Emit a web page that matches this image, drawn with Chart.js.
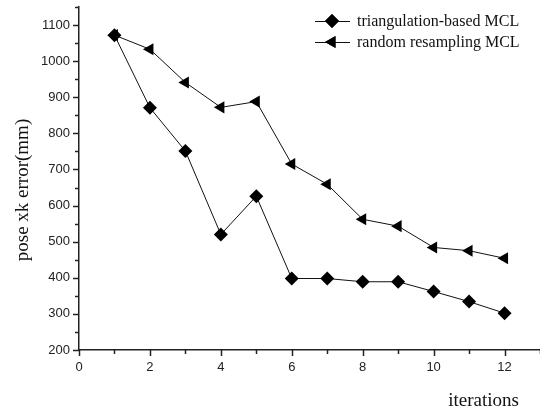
<!DOCTYPE html>
<html>
<head>
<meta charset="utf-8">
<script src="https://cdn.jsdelivr.net/npm/chart.js@4"></script>
<style>
  html, body { margin: 0; padding: 0; background: #fff; }
  #wrap { width: 540px; height: 417px; position: relative; }
</style>
</head>
<body>
<div id="wrap"><canvas id="chart" width="540" height="417"></canvas></div>
<script>
// values
iterations = [1, 2, 3, 4, 5, 6, 7, 8, 9, 10, 11, 12]
triangulation = [1072, 871, 751, 520, 626, 398, 398, 389, 389, 362, 334, 302]
randomResampling = [1072, 1033, 941, 872, 888, 715, 659, 562, 543, 484, 475, 454]
names = ['triangulation-based MCL', 'random resampling MCL']
xTickLabels = [0, 2, 4, 6, 8, 10, 12]
yTickLabels = [200, 300, 400, 500, 600, 700, 800, 900, 1000, 1100]
xTitle = 'iterations'
yTitle = 'pose xk error(mm)'

function toPoints(vals) {
    pts = []
    for (let i = 0; i < vals.length; i++) {
        pts.push({ x: iterations[i], y: vals[i] })
    }
    return pts
}

function noPad(s) {
    s.paddingLeft = 0
    s.paddingRight = 0
    s.paddingTop = 0
    s.paddingBottom = 0
}

// minor ticks, axis titles and the legend drawn on top
const extras = {
    id: 'extras',
    afterDraw(chart) {
        const c = chart.ctx
        const xs = chart.scales.x
        const ys = chart.scales.y
        const area = chart.chartArea
        c.save()
        c.strokeStyle = '#222'
        c.lineWidth = 1.5
        // x ticks
        for (let v = 0; v <= 13; v++) {
            const px = Math.round(xs.getPixelForValue(v)) + 0.5
            const len = (v % 2 == 0) ? 6 : 4
            c.beginPath()
            c.moveTo(px, area.bottom)
            c.lineTo(px, area.bottom + len)
            c.stroke()
        }
        // y ticks
        for (let v = 200; v <= 1150; v += 50) {
            const py = Math.round(ys.getPixelForValue(v)) + 0.5
            const len = (v % 100 == 0) ? 6 : 4
            c.beginPath()
            c.moveTo(area.left, py)
            c.lineTo(area.left - len, py)
            c.stroke()
        }
        // axis titles
        c.fillStyle = '#111'
        c.font = '19px "Liberation Serif", "Times New Roman", serif'
        c.textAlign = 'right'
        c.textBaseline = 'alphabetic'
        c.fillText(xTitle, 519, 406)
        c.save()
        c.translate(28, 190)
        c.rotate(-Math.PI / 2)
        c.textAlign = 'center'
        c.fillText(yTitle, 0, 0)
        c.restore()
        // legend
        c.font = '16px "Liberation Serif", "Times New Roman", serif'
        c.textAlign = 'left'
        c.textBaseline = 'middle'
        const rows = [21, 42]
        for (let i = 0; i < 2; i++) {
            const ds = chart.data.datasets[i]
            const y = rows[i]
            c.strokeStyle = '#111'
            c.lineWidth = 1
            c.beginPath()
            c.moveTo(315, y + 0.5)
            c.lineTo(350, y + 0.5)
            c.stroke()
            Chart.helpers.drawPoint(c, {
                pointStyle: ds.pointStyle,
                radius: ds.pointRadius,
                rotation: ds.pointRotation,
                borderWidth: 0
            }, 332, y)
            c.fillStyle = '#000'
            c.fill()
            c.fillStyle = '#111'
            c.fillText(names[i], 357, y + 1)
        }
        c.restore()
    }
}

ctx = document.getElementById('chart')
config = {
    type: 'line',
    data: {
        datasets: [
            {
                label: names[0],
                data: toPoints(triangulation),
                borderColor: '#111',
                borderWidth: 1,
                backgroundColor: '#000',
                pointStyle: 'rectRot',
                pointRadius: 7,
                pointRotation: 0,
                pointBorderWidth: 0,
                tension: 0
            },
            {
                label: names[1],
                data: toPoints(randomResampling),
                borderColor: '#111',
                borderWidth: 1,
                backgroundColor: '#000',
                pointStyle: 'triangle',
                pointRadius: 7,
                pointRotation: -90,
                pointBorderWidth: 0,
                tension: 0
            }
        ]
    },
    options: {
        responsive: false,
        animation: false,
        layout: { autoPadding: false, padding: { top: 7, right: 0, left: 0, bottom: 0 } },
        plugins: { legend: { display: false }, tooltip: { enabled: false } },
        scales: {
            x: {
                type: 'linear',
                min: 0,
                max: 13,
                afterFit: function (s) { s.height = 67; noPad(s) },
                afterBuildTicks: function (s) {
                    s.ticks = xTickLabels.map(v => ({ value: v }))
                },
                border: { color: '#222', width: 1.5 },
                grid: { display: false, drawTicks: false },
                ticks: {
                    padding: 10,
                    color: '#222',
                    font: { family: '"Liberation Sans", Arial, sans-serif', size: 13 },
                    maxRotation: 0,
                    callback: v => String(v)
                }
            },
            y: {
                min: 200,
                max: 1150,
                afterFit: function (s) { s.width = 79; noPad(s) },
                afterBuildTicks: function (s) {
                    s.ticks = yTickLabels.map(v => ({ value: v }))
                },
                border: { color: '#222', width: 1.5 },
                grid: { display: false, drawTicks: false },
                ticks: {
                    padding: 9,
                    color: '#222',
                    font: { family: '"Liberation Sans", Arial, sans-serif', size: 13 },
                    callback: v => String(v)
                }
            }
        }
    },
    plugins: [extras]
}
new Chart(ctx, config)
</script>
</body>
</html>
